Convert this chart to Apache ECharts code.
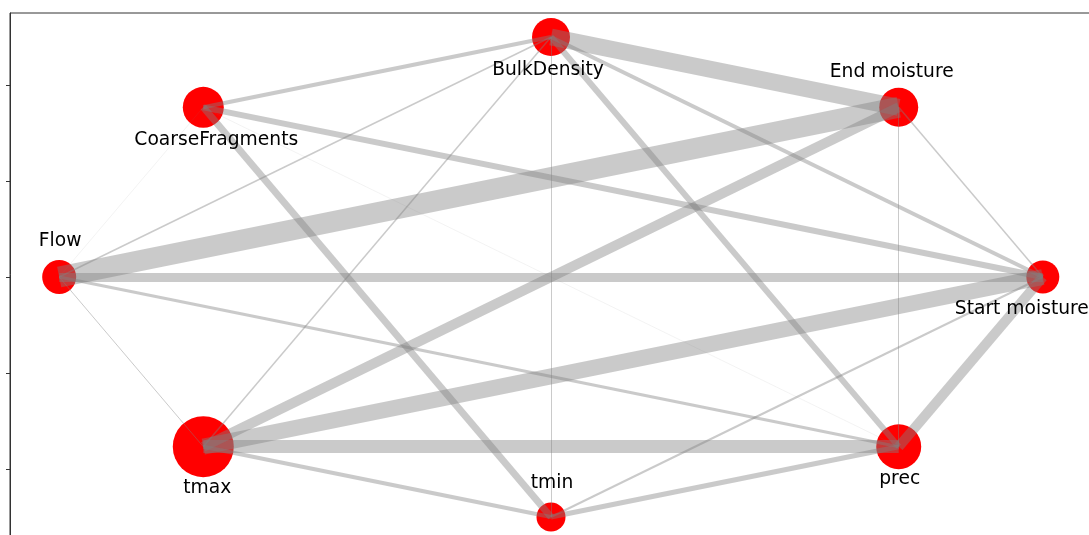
<!DOCTYPE html>
<html>
<head>
<meta charset="utf-8">
<script src="https://cdn.jsdelivr.net/npm/echarts@6/dist/echarts.min.js"></script>
<style>
  html, body { margin: 0; padding: 0; background: #ffffff; }
  #chart { width: 1089px; height: 535px; }
</style>
</head>
<body>
<div id="chart"></div>
<script>
// Node names, in circular-layout order (counter-clockwise from the right)
const nodeNames = ['Start moisture', 'End moisture', 'BulkDensity', 'CoarseFragments',
                   'Flow', 'tmax', 'tmin', 'prec'];
// Layout coordinates of the nodes
const nodeX = [1.0, 0.707, 0.0, -0.707, -1.0, -0.707, 0.0, 0.707];
const nodeY = [0.0, 0.707, 1.0, 0.707, 0.0, -0.707, -1.0, -0.707];
// Node importance (drawn as marker diameter)
const nodeSize = [33, 39, 38, 41, 34, 61, 29, 45];

// Edges: source, target, weight (drawn as line width)
const edgeSource = ['Flow', 'BulkDensity', 'tmax', 'tmax', 'prec', 'Flow', 'tmax', 'CoarseFragments',
                    'BulkDensity', 'CoarseFragments', 'tmin', 'BulkDensity', 'BulkDensity', 'tmax',
                    'Flow', 'tmin', 'BulkDensity', 'BulkDensity', 'End moisture', 'BulkDensity',
                    'End moisture', 'Flow', 'CoarseFragments', 'CoarseFragments'];
const edgeTarget = ['End moisture', 'End moisture', 'Start moisture', 'prec', 'Start moisture',
                    'Start moisture', 'End moisture', 'tmin', 'prec', 'Start moisture', 'prec',
                    'CoarseFragments', 'Start moisture', 'tmin', 'prec', 'Start moisture', 'tmax',
                    'Flow', 'Start moisture', 'tmin', 'prec', 'tmax', 'Flow', 'prec'];
const edgeWeight = [21, 17, 16, 13, 10, 9, 10, 7, 6, 6, 5, 4, 4, 4, 3, 2, 1.5, 1.5, 1.5, 1, 1, 1, 0.4, 0.4];

// Y ticks shown on the left spine
const yTicks = [-0.8, -0.4, 0, 0.4, 0.8];

// Label placement around each node: [dx, dy] in pixels from the node centre
const labelOffset = {
  'Start moisture': [-21, 32],
  'End moisture': [-7, -35],
  'BulkDensity': [-3, 33],
  'CoarseFragments': [13, 33],
  'Flow': [1, -36],
  'tmax': [4, 41],
  'tmin': [1, -34],
  'prec': [1, 32]
};

const idx = {};
nodeNames.forEach((n, i) => { idx[n] = i; });

const nodeData = nodeNames.map((n, i) => ({ name: n, value: [nodeX[i], nodeY[i]], size: nodeSize[i] }));

const edgeData = edgeSource.map((s, k) => {
  const a = idx[s], b = idx[edgeTarget[k]];
  return {
    coords: [[nodeX[a], nodeY[a]], [nodeX[b], nodeY[b]]],
    lineStyle: { width: edgeWeight[k], opacity: edgeWeight[k] < 0.5 ? 0.25 : 0.42 }
  };
});

const labelData = nodeNames.map((n, i) => ({ name: n, value: [nodeX[i], nodeY[i]] }));

const chart = echarts.init(document.getElementById('chart'), null, { renderer: 'canvas' });
chart.setOption({
  animation: false,
  backgroundColor: '#ffffff',
  grid: {
    left: 10, top: 13, right: -3, bottom: -6,
    outerBoundsMode: 'none',
    containLabel: false,
    show: true, borderColor: '#333333', borderWidth: 1, backgroundColor: 'transparent'
  },
  xAxis: {
    type: 'value', min: -1.1, max: 1.1,
    axisLine: { show: false }, axisTick: { show: false }, axisLabel: { show: false }, splitLine: { show: false }
  },
  yAxis: {
    type: 'value', min: -1.1, max: 1.1,
    axisLine: { show: true, onZero: false, lineStyle: { color: '#333333', width: 1 } },
    axisTick: { show: true, length: 4, customValues: yTicks, lineStyle: { color: '#333333', width: 1 } },
    axisLabel: { show: false },
    splitLine: { show: false }
  },
  series: [
    {
      type: 'scatter',
      z: 2,
      data: nodeData,
      symbol: 'circle',
      symbolSize: (val, p) => p.data.size,
      itemStyle: { color: '#ff0000', opacity: 1 },
      label: { show: false },
      emphasis: { disabled: true }
    },
    {
      type: 'lines',
      coordinateSystem: 'cartesian2d',
      z: 3,
      data: edgeData,
      symbol: ['none', 'none'],
      lineStyle: { color: '#808080', opacity: 0.42, curveness: 0, cap: 'butt' },
      silent: true
    },
    {
      type: 'scatter',
      z: 4,
      data: labelData,
      symbolSize: 1,
      itemStyle: { color: 'rgba(0,0,0,0)' },
      silent: true,
      label: {
        show: true,
        position: 'inside',
        formatter: (p) => p.name,
        color: '#000000',
        opacity: 1,
        fontFamily: 'DejaVu Sans',
        fontSize: 18.7,
        align: 'center',
        verticalAlign: 'middle'
      },
      labelLayout: (params) => {
        const o = labelOffset[nodeNames[params.dataIndex]];
        return { dx: o[0], dy: o[1], hideOverlap: false };
      },
      emphasis: { disabled: true }
    }
  ]
});
</script>
</body>
</html>
